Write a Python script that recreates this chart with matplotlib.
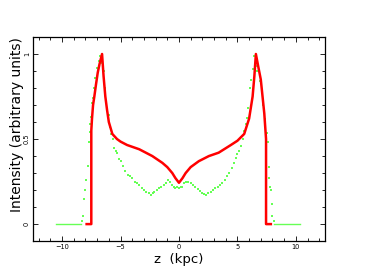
import matplotlib
matplotlib.use("Agg")
import matplotlib.pyplot as plt
from matplotlib.ticker import MultipleLocator

# model (red) : intensity profile along z
model_z = [-7.9, -7.5, -7.5, -7.44, -7.35, -7.24, -7.1, -6.95, -6.8, -6.58,
           -6.45, -6.3, -6.15, -6.0, -5.7, -5.3, -5.0, -4.44, -3.4, -2.28,
           -1.42, -1.0, -0.57, -0.3, 0.0,
           0.3, 0.57, 1.0, 1.7, 2.56, 3.4, 4.44, 5.0, 5.58, 6.0,
           6.3, 6.45, 6.58, 6.8, 7.0, 7.3, 7.45, 7.45, 7.86]
model_I = [0.0, 0.0, 0.55, 0.62, 0.70, 0.75, 0.82, 0.89, 0.94, 1.0,
           0.87, 0.75, 0.67, 0.60, 0.53, 0.50, 0.485, 0.465, 0.44, 0.40,
           0.36, 0.335, 0.30, 0.27, 0.243,
           0.27, 0.30, 0.335, 0.37, 0.40, 0.42, 0.465, 0.49, 0.53, 0.62,
           0.75, 0.87, 1.0, 0.92, 0.85, 0.65, 0.50, 0.0, 0.0]

# observed (green dots)
obs_z = [-8.3, -8.2, -8.1, -8.0, -7.92, -7.8, -7.72, -7.64, -7.58, -7.5,
         -7.44, -7.35, -7.25, -7.15, -7.0, -6.85, -6.72, -6.55, -6.44, -6.3,
         -6.15, -6.0, -5.9, -5.8, -5.64, -5.53, -5.4, -5.3, -5.16, -5.0,
         -4.8, -4.6, -4.4, -4.2, -4.0, -3.8, -3.6, -3.4, -3.2, -3.0,
         -2.8, -2.6, -2.42, -2.25, -2.1, -1.9, -1.7, -1.5, -1.3, -1.1,
         -0.9, -0.75, -0.6, -0.45, -0.3, -0.15, 0.0,
         0.15, 0.3, 0.45, 0.6, 0.8, 1.0, 1.2, 1.4, 1.6, 1.8,
         2.0, 2.15, 2.3, 2.5, 2.7, 2.9, 3.1, 3.3, 3.5, 3.7,
         3.9, 4.1, 4.3, 4.5, 4.7, 4.9, 5.0, 5.15, 5.3, 5.44,
         5.6, 5.73, 5.8, 5.93, 6.07, 6.15, 6.3, 6.38, 6.55, 6.7,
         6.9, 7.07, 7.2, 7.35, 7.52, 7.58, 7.66, 7.72, 7.8, 7.86,
         7.93, 8.0, 8.1]
obs_I = [0.02, 0.05, 0.15, 0.20, 0.26, 0.34, 0.48, 0.54, 0.59, 0.63,
         0.71, 0.74, 0.80, 0.86, 0.92, 0.96, 0.99, 0.95, 0.90, 0.80,
         0.67, 0.64, 0.57, 0.53, 0.50, 0.45, 0.43, 0.42, 0.38, 0.37,
         0.34, 0.31, 0.29, 0.28, 0.27, 0.25, 0.24, 0.23, 0.21, 0.20,
         0.19, 0.18, 0.17, 0.18, 0.19, 0.20, 0.21, 0.22, 0.23, 0.24,
         0.26, 0.25, 0.23, 0.22, 0.215, 0.22, 0.215,
         0.22, 0.22, 0.24, 0.25, 0.245, 0.24, 0.23, 0.22, 0.205, 0.195,
         0.185, 0.175, 0.17, 0.18, 0.19, 0.20, 0.21, 0.22, 0.23, 0.24,
         0.26, 0.28, 0.30, 0.33, 0.36, 0.39, 0.41, 0.43, 0.46, 0.50,
         0.55, 0.59, 0.625, 0.68, 0.80, 0.85, 0.91, 0.99, 0.93, 0.90,
         0.84, 0.78, 0.70, 0.62, 0.535, 0.48, 0.335, 0.27, 0.22, 0.20,
         0.12, 0.05, 0.02]
# flat zero tails of the observed profile
tail_left_z = [-10.5, -8.4]
tail_right_z = [8.1, 10.35]
tail_I = [0.0, 0.0]

green = "#66ff55"

fig = plt.figure(figsize=(3.82, 2.70), dpi=100)
ax = fig.add_axes([0.086, 0.107, 0.765, 0.756])

ax.plot(tail_left_z, tail_I, color=green, lw=1.0)
ax.plot(tail_right_z, tail_I, color=green, lw=1.0)
ax.plot(obs_z, obs_I, ls="none", marker="s", ms=1.6, mew=0, color=green)
ax.plot(model_z, model_I, color="red", lw=1.8, solid_joinstyle="round")

ax.set_xlim(-12.5, 12.5)
ax.set_ylim(-0.1, 1.1)
ax.xaxis.set_major_locator(MultipleLocator(5))
ax.xaxis.set_minor_locator(MultipleLocator(1))
ax.yaxis.set_major_locator(MultipleLocator(0.5))
ax.yaxis.set_minor_locator(MultipleLocator(0.1))
ax.set_yticks([0, 0.5, 1])
ax.set_yticklabels(["0", "0.5", "1"], rotation=90, va="center")

ax.tick_params(which="both", direction="in", top=True, right=True,
               labelsize=4.8, pad=2, width=0.6)
ax.tick_params(which="major", length=3.5)
ax.tick_params(which="minor", length=2)
for s in ax.spines.values():
    s.set_linewidth(0.9)

ax.set_xlabel("z  (kpc)", fontsize=9.5, labelpad=2)
ax.set_ylabel("Intensity (arbitrary units)", fontsize=10)
ax.yaxis.set_label_coords(-0.03, 0.57)

fig.savefig("out.png", dpi=100)
